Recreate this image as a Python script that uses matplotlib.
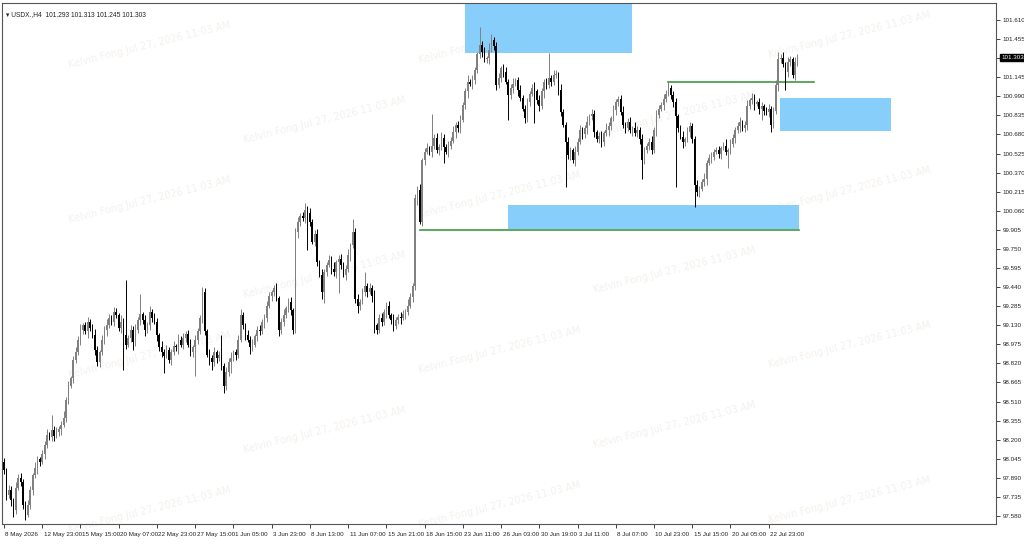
import matplotlib
matplotlib.use("Agg")
import matplotlib.pyplot as plt
import matplotlib.transforms as mtransforms
from matplotlib.patches import Rectangle

plt.rcParams["font.family"] = ["Liberation Sans", "DejaVu Sans"]

# USDX H4 candles, 8 May 2026 -> 24 Jul 2026
first_open = 98.02
closes = [
    97.95, 97.75, 97.79, 97.71, 97.63, 97.81, 97.89, 97.86, 97.67, 97.59,
    97.67, 97.79, 97.91, 97.97, 98.04, 98.02, 98.08, 98.16, 98.24, 98.22,
    98.28, 98.23, 98.26, 98.29, 98.32, 98.38, 98.52, 98.64, 98.70, 98.85,
    98.91, 99.01, 99.09, 99.13, 99.08, 99.16, 99.11, 99.05, 98.93, 98.83,
    98.91, 99.01, 99.09, 99.13, 99.19, 99.16, 99.24, 99.21, 99.11, 99.16,
    99.05, 98.97, 99.03, 99.09, 98.99, 99.09, 99.17, 99.22, 99.17, 99.09,
    99.13, 99.24, 99.19, 99.16, 99.05, 98.95, 98.91, 98.88, 98.93, 98.85,
    98.91, 98.96, 98.95, 99.01, 98.97, 99.03, 99.06, 98.97, 98.91, 98.95,
    99.01, 99.08, 99.19, 99.40, 99.08, 98.89, 98.86, 98.83, 98.91, 98.86,
    98.89, 98.80, 98.64, 98.75, 98.83, 98.86, 98.91, 98.89, 99.01, 99.21,
    99.13, 99.05, 99.01, 98.95, 98.97, 99.04, 99.09, 99.08, 99.16, 99.19,
    99.29, 99.37, 99.40, 99.43, 99.35, 99.09, 99.16, 99.21, 99.27, 99.32,
    99.25, 99.09, 99.89, 99.97, 100.02, 100.00, 100.07, 100.04, 99.97, 99.81,
    99.87, 99.64, 99.54, 99.40, 99.56, 99.62, 99.66, 99.59, 99.56, 99.64,
    99.67, 99.62, 99.54, 99.59, 99.70, 99.78, 99.89, 99.34, 99.29, 99.32,
    99.40, 99.45, 99.40, 99.43, 99.37, 99.13, 99.09, 99.19, 99.16, 99.24,
    99.29, 99.21, 99.17, 99.12, 99.17, 99.20, 99.19, 99.22, 99.24, 99.29,
    99.36, 99.45, 100.16, 100.23, 99.97, 100.47, 100.54, 100.57, 100.54, 100.59,
    100.65, 100.55, 100.58, 100.65, 100.58, 100.54, 100.59, 100.63, 100.70, 100.76,
    100.73, 100.80, 100.92, 101.03, 101.11, 101.09, 101.12, 101.20, 101.33, 101.41,
    101.35, 101.29, 101.30, 101.37, 101.45, 101.40, 101.08, 101.14, 101.22, 101.19,
    101.11, 101.00, 101.06, 101.09, 101.12, 101.04, 100.98, 100.89, 100.81, 100.94,
    101.01, 101.06, 101.03, 100.96, 100.91, 101.03, 101.11, 101.08, 101.14, 101.11,
    101.16, 101.17, 101.04, 100.86, 100.76, 100.62, 100.51, 100.55, 100.47, 100.54,
    100.62, 100.72, 100.68, 100.73, 100.78, 100.83, 100.85, 100.70, 100.64, 100.67,
    100.62, 100.69, 100.72, 100.75, 100.81, 100.88, 100.94, 100.97, 100.86, 100.76,
    100.73, 100.78, 100.72, 100.73, 100.69, 100.72, 100.64, 100.47, 100.55, 100.59,
    100.62, 100.55, 100.72, 100.84, 100.89, 100.92, 100.97, 101.01, 101.06, 101.00,
    100.94, 100.83, 100.73, 100.66, 100.62, 100.64, 100.70, 100.75, 100.64, 100.27,
    100.21, 100.24, 100.29, 100.32, 100.45, 100.49, 100.50, 100.54, 100.55, 100.52,
    100.57, 100.59, 100.54, 100.55, 100.60, 100.65, 100.72, 100.75, 100.78, 100.73,
    100.76, 100.91, 100.96, 100.98, 100.93, 100.94, 100.89, 100.91, 100.87, 100.86,
    100.89, 100.76, 100.87, 101.08, 101.29, 101.30, 101.25, 101.19, 101.27, 101.29,
    101.16, 101.27, 101.303,
]
# wick lengths beyond the body, in hundredths
upper_wick = [
    3, 2, 4, 3, 2, 5, 3, 4, 2, 3, 4, 3, 2, 5, 3, 2, 4, 3, 5, 2,
    12, 3, 4, 2, 3, 5, 3, 4, 2, 3, 4, 3, 5, 2, 3, 4, 2, 3, 5, 3,
    2, 4, 3, 5, 3, 2, 4, 3, 2, 5, 3, 45, 2, 4, 3, 5, 3, 16, 2, 4,
    3, 5, 2, 4, 3, 2, 5, 3, 4, 2, 3, 4, 2, 5, 3, 4, 2, 3, 5, 2,
    4, 3, 2, 4, 3, 2, 5, 3, 4, 2, 3, 16, 2, 4, 3, 5, 2, 3, 4, 5,
    3, 2, 4, 3, 5, 2, 3, 4, 2, 3, 4, 3, 2, 3, 4, 2, 3, 5, 2, 3,
    4, 2, 3, 4, 2, 3, 5, 3, 4, 2, 3, 4, 2, 5, 3, 2, 4, 3, 5, 2,
    3, 4, 2, 3, 5, 2, 10, 3, 4, 2, 3, 11, 2, 4, 3, 5, 2, 3, 4, 2,
    3, 4, 2, 5, 3, 2, 4, 3, 2, 5, 3, 2, 4, 3, 5, 2, 3, 4, 2, 26,
    3, 4, 2, 5, 3, 2, 4, 3, 5, 2, 3, 4, 2, 3, 5, 2, 4, 3, 2, 14,
    3, 4, 2, 5, 5, 2, 3, 4, 2, 3, 4, 2, 3, 5, 2, 3, 4, 2, 3, 4,
    2, 3, 5, 2, 4, 3, 2, 3, 20, 2, 4, 3, 2, 5, 3, 2, 4, 3, 2, 5,
    3, 4, 2, 3, 5, 2, 4, 3, 2, 3, 4, 2, 5, 3, 2, 4, 3, 2, 3, 5,
    2, 3, 4, 2, 5, 3, 2, 4, 3, 2, 3, 5, 2, 4, 3, 2, 4, 3, 5, 2,
    3, 4, 2, 3, 5, 2, 4, 3, 2, 3, 4, 2, 3, 5, 2, 3, 4, 2, 3, 4,
    2, 3, 5, 2, 4, 3, 2, 3, 4, 2, 3, 5, 2, 4, 3, 2, 4, 3, 2, 3,
    4, 2, 3, 4, 6, 3, 5, 2, 4, 3, 2, 4, 3,
]
lower_wick = [
    3, 4, 2, 5, 6, 3, 2, 4, 3, 4, 2, 3, 4, 2, 5, 3, 2, 4, 3, 2,
    3, 4, 2, 3, 5, 2, 4, 3, 2, 4, 3, 2, 4, 3, 2, 5, 3, 2, 4, 3,
    4, 2, 3, 5, 2, 3, 4, 2, 3, 4, 28, 3, 2, 4, 6, 3, 2, 4, 3, 5,
    2, 4, 3, 2, 5, 3, 4, 14, 2, 3, 4, 2, 3, 5, 2, 3, 4, 2, 3, 4,
    23, 3, 2, 4, 3, 2, 5, 6, 3, 4, 2, 3, 6, 4, 3, 9, 2, 4, 3, 2,
    3, 4, 2, 5, 3, 2, 4, 3, 2, 5, 3, 2, 4, 3, 2, 5, 3, 4, 2, 3,
    4, 3, 2, 5, 3, 2, 4, 30, 3, 2, 4, 3, 2, 6, 9, 3, 2, 4, 3, 5,
    25, 3, 2, 4, 3, 5, 2, 3, 6, 4, 2, 3, 4, 2, 5, 6, 3, 2, 4, 3,
    5, 2, 3, 4, 2, 3, 5, 2, 4, 3, 2, 4, 3, 5, 2, 3, 4, 2, 3, 4,
    3, 2, 4, 3, 13, 2, 4, 3, 2, 5, 3, 4, 2, 3, 5, 2, 4, 3, 2, 3,
    4, 2, 3, 5, 2, 3, 4, 2, 3, 4, 2, 20, 3, 4, 2, 5, 3, 2, 4, 3,
    3, 2, 26, 3, 4, 2, 5, 3, 2, 4, 3, 2, 4, 3, 2, 37, 3, 4, 2, 5,
    3, 2, 4, 3, 5, 2, 3, 4, 2, 3, 4, 3, 2, 5, 3, 2, 4, 3, 2, 3,
    4, 2, 3, 5, 2, 3, 4, 15, 3, 2, 4, 3, 2, 5, 3, 2, 4, 3, 2, 3,
    4, 58, 3, 2, 5, 3, 2, 4, 3, 18, 3, 4, 2, 3, 5, 2, 4, 3, 2, 3,
    4, 2, 3, 13, 3, 2, 4, 3, 5, 2, 3, 4, 2, 3, 5, 2, 4, 9, 3, 2,
    4, 6, 3, 2, 5, 3, 2, 15, 4, 3, 2, 4, 3,
]

# one label every 16 bars
x_labels = ["8 May 2026", "12 May 23:00", "15 May 15:00", "20 May 07:00", "22 May 23:00",
            "27 May 15:00", "1 Jun 05:00", "3 Jun 23:00", "8 Jun 13:00", "11 Jun 07:00",
            "15 Jun 21:00", "18 Jun 15:00", "23 Jun 11:00", "26 Jun 03:00", "30 Jun 19:00",
            "3 Jul 11:00", "8 Jul 07:00", "10 Jul 23:00", "15 Jul 15:00", "20 Jul 05:00",
            "22 Jul 23:00"]
price_ticks = [97.580 + 0.155 * k for k in range(27)]

# zones (bar index from/to, price low/high) and levels (bar from/to, price)
zones = [(192.9, 262.8, 101.342, 101.80),
         (324.7, 371.0, 100.708, 100.976),
         (210.9, 332.6, 99.912, 100.107)]
levels = [(174, 332.6, 99.904), (278, 339.0, 101.106)]
last_price = 101.303

opens = [first_open] + closes[:-1]
idx = list(range(len(closes)))
highs = [max(o, c) + u / 100 for o, c, u in zip(opens, closes, upper_wick)]
lows = [min(o, c) - d / 100 for o, c, d in zip(opens, closes, lower_wick)]

fig = plt.figure(figsize=(10.24, 5.48), dpi=100)
ax = fig.add_axes([2 / 1024, 24 / 548, 994 / 1024, 521 / 548])
ax.set_xlim(-0.8, 415.1)
ax.set_ylim(97.515, 101.748)

# watermark
for m in range(-3, 6):
    for k in range(7):
        px = 150 + 175 * k
        py = 45 + 75 * k + 155 * m
        if 0 < px < 1000 and 10 < py < 520:
            ax.text(px / 1024, 1 - py / 548, "Kelvin Fong Jul 27, 2026 11:03 AM",
                    transform=fig.transFigure, rotation=14, ha="center", va="center",
                    fontsize=7, color="#f5f1ed", zorder=0, family="DejaVu Sans")

for x0, x1, y0, y1 in zones:
    ax.add_patch(Rectangle((x0, y0), x1 - x0, y1 - y0, facecolor="#87cefa",
                           edgecolor="none", zorder=1))
for x0, x1, y in levels:
    ax.plot([x0, x1], [y, y], color="#3f9a3f", lw=1.2, zorder=2)

for i, o, h, l, c in zip(idx, opens, highs, lows, closes):
    col = "#808080" if c >= o else "#000000"
    ax.vlines(i, l, h, color=col, lw=0.7, zorder=3)
    ax.bar(i, max(abs(c - o), 0.004), bottom=min(o, c), width=0.65, color=col,
           lw=0, zorder=4)

ax.yaxis.tick_right()
ax.set_yticks(price_ticks)
ax.set_yticklabels(["%.3f" % p for p in price_ticks])
ax.set_xticks([16 * k for k in range(len(x_labels))])
ax.set_xticklabels(x_labels, ha="left")
ax.tick_params(axis="y", labelsize=4.5, length=3, width=0.6, pad=2, colors="#222222")
ax.tick_params(axis="x", labelsize=4.5, length=3, width=0.6, pad=3, colors="#222222")
shift = mtransforms.ScaledTranslation(1.5 / 100, 0, fig.dpi_scale_trans)
for lab in ax.get_xticklabels():
    lab.set_transform(lab.get_transform() + shift)
for s in ax.spines.values():
    s.set_color("#555555")
    s.set_linewidth(0.8)

trans = mtransforms.blended_transform_factory(ax.transAxes, ax.transData)
ax.text(1.005, last_price, "%.3f" % last_price, transform=trans, fontsize=4.5,
        color="white", va="center", ha="left",
        bbox=dict(boxstyle="square,pad=0.15", fc="black", ec="black"))
ax.text(0.004, 0.985, "\u25be USDX.,H4  101.293 101.313 101.245 101.303",
        transform=ax.transAxes, fontsize=4.8, va="top", ha="left", color="#222222")

fig.savefig("out.png", dpi=100, facecolor="white")
